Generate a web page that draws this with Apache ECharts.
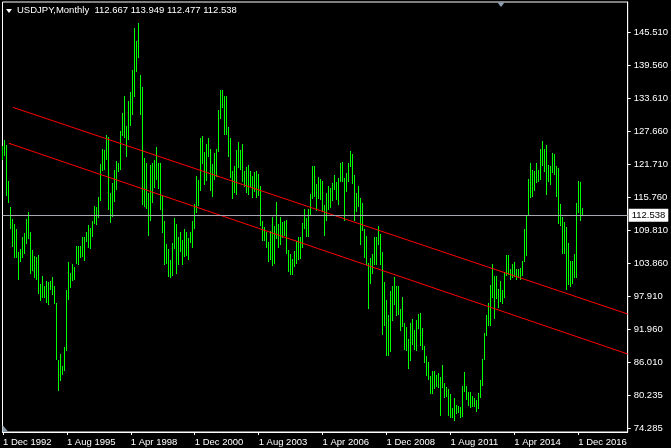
<!DOCTYPE html>
<html>
<head>
<meta charset="utf-8">
<script src="https://cdn.jsdelivr.net/npm/echarts@6/dist/echarts.min.js"></script>
<style>
html,body{margin:0;padding:0;background:#000;}
#chart{width:671px;height:448px;}
</style>
</head>
<body>
<div id="chart"></div>
<script>
// Monthly USDJPY bars, index 0 = Dec 1992 ... 290 = Feb 2017
const highs = [
125.0,126.1,125.2,118.7,114.0,111.8,110.9,110.0,105.9,106.4,108.7,109.3,111.8,
113.1,109.5,106.2,105.2,105.0,105.4,100.1,101.6,99.8,100.7,100.5,100.7,
101.4,99.8,96.7,86.4,87.6,85.3,88.7,99.0,104.1,102.1,103.7,103.2,
107.0,107.0,107.0,108.6,108.6,109.5,110.8,110.2,111.5,114.2,114.0,115.8,
121.8,124.5,124.3,127.0,126.7,116.6,118.4,120.7,122.4,122.0,127.8,131.0,
134.0,128.6,133.2,134.8,138.8,146.3,144.0,147.3,137.9,135.7,122.8,121.9,
116.5,121.6,122.0,122.5,124.8,122.0,122.0,116.0,111.5,107.3,106.5,104.5,
107.5,112.0,111.0,108.6,109.5,108.0,110.0,109.5,108.5,109.5,111.5,114.6,
119.6,119.0,126.5,126.8,124.0,125.5,126.5,124.5,121.8,123.8,124.5,131.6,
135.1,135.2,134.0,134.0,128.5,126.5,120.5,121.5,124.3,125.7,124.3,125.5,
120.6,121.2,121.6,120.6,119.7,120.4,120.6,120.0,117.9,111.6,110.5,109.6,
107.8,109.8,112.2,110.6,114.9,110.9,112.2,111.4,111.5,111.7,106.3,105.5,
104.7,106.1,107.9,108.7,108.7,111.1,113.7,112.1,113.6,116.4,121.4,121.4,
118.2,119.4,119.1,118.7,114.4,116.5,117.8,117.4,118.4,119.8,118.5,119.3,
121.9,122.2,119.2,120.1,122.0,124.1,123.6,119.8,116.6,117.9,115.7,114.7,
110.1,108.8,104.0,104.8,105.5,108.6,108.6,110.7,109.1,106.0,100.5,97.3,
94.6,98.9,99.7,101.4,99.8,99.7,95.6,97.8,93.1,92.3,90.2,93.1,
93.8,91.8,93.6,94.8,94.9,92.2,88.9,87.2,86.0,83.6,84.4,84.5,
83.7,84.0,83.3,85.5,82.2,81.6,81.2,80.3,77.8,79.5,78.3,78.2,
77.9,81.7,84.2,81.8,80.6,80.6,79.9,79.6,79.2,80.4,82.8,86.6,
91.3,94.5,96.7,99.9,103.7,101.5,101.5,99.2,100.6,99.0,102.4,105.4,
105.4,102.8,103.8,104.1,102.8,102.8,103.1,104.3,110.1,112.5,119.1,121.9,
120.8,120.5,122.0,120.8,124.5,125.9,124.6,125.3,121.7,121.5,123.8,123.6,
121.5,121.0,114.6,112.3,111.4,110.4,107.5,104.3,104.3,105.5,114.8,118.7,
118.6,113.949
];
const lows = [
122.5,123.2,116.1,114.8,110.0,106.8,104.8,104.8,100.8,104.1,104.8,105.5,107.4,
108.3,101.9,102.5,101.2,100.8,98.3,97.0,97.6,97.6,96.7,96.3,99.0,
98.2,96.5,86.4,80.8,82.6,83.8,84.4,88.0,97.2,99.4,100.7,100.8,
103.7,103.5,104.8,105.0,104.3,107.7,106.6,106.4,108.6,111.0,110.8,112.0,
115.1,120.5,120.7,122.5,113.5,111.2,112.2,114.9,117.1,120.4,120.7,126.9,
126.5,123.1,126.1,128.6,130.6,133.9,138.5,140.9,130.6,114.4,114.1,113.7,
108.9,111.6,114.8,117.5,119.0,117.3,113.5,109.3,103.6,103.8,101.4,101.3,
101.5,106.4,102.0,103.5,106.0,103.5,105.0,105.2,104.5,107.5,106.7,110.0,
113.0,114.2,117.0,121.8,118.0,118.7,123.0,117.0,115.8,119.0,119.5,124.0,
130.0,132.0,127.0,127.0,123.0,119.3,115.5,116.5,116.2,121.0,120.7,118.5,
117.7,116.5,116.2,117.6,115.7,116.8,115.6,116.0,110.7,107.9,107.9,106.7,
104.2,104.5,103.4,103.8,108.2,106.6,107.2,108.4,108.8,105.6,102.4,101.8,
101.7,103.3,103.7,104.4,104.6,106.6,110.0,108.7,108.7,112.4,115.4,115.8,
113.4,115.5,115.3,113.4,108.9,111.6,113.5,113.8,115.1,117.2,115.3,114.4,
118.5,118.5,111.6,116.8,118.6,121.2,118.2,111.6,113.1,114.1,107.2,109.7,
104.9,103.6,95.7,100.2,102.0,103.5,103.6,107.2,103.5,90.9,92.5,87.1,
87.1,87.9,93.5,96.3,94.4,94.5,91.7,92.4,88.2,88.0,84.8,86.3,
89.2,88.3,88.1,92.1,88.9,88.2,85.9,83.6,82.9,80.2,80.2,81.2,
81.6,81.4,76.3,81.3,79.6,79.7,76.3,75.9,75.9,75.4,76.6,76.9,
76.0,76.1,80.6,79.2,78.2,77.7,77.9,77.9,77.1,77.6,79.6,81.7,
86.5,90.8,92.6,92.6,97.6,93.8,97.5,95.8,96.9,96.6,97.6,101.6,
101.8,100.8,101.2,101.4,100.8,101.2,100.8,101.5,104.2,105.2,112.5,115.6,
115.9,116.9,118.3,118.5,118.9,121.5,120.4,116.2,118.6,118.1,120.2,119.8,
115.9,111.0,110.7,105.6,105.5,99.0,100.0,99.6,100.1,101.2,101.2,112.9,
111.6,112.477
];
// Last bar header: open, high, low, close
const headerOHLC = ['112.667','113.949','112.477','112.538'];
const currentPrice = 112.538;
// Trend lines: [month index, price]
const upperTrend = [[4.9, 132.04], [312.75, 94.73]];
const lowerTrend = [[2.9, 125.55], [312.75, 87.51]];
// Axis ticks
const xTickMonths = [0, 32, 64, 96, 128, 160, 192, 224, 256, 288];
const xTickLabels = ['1 Dec 1992','1 Aug 1995','1 Apr 1998','1 Dec 2000','1 Aug 2003','1 Apr 2006','1 Dec 2008','1 Aug 2011','1 Apr 2014','1 Dec 2016'];
const yTickValues = [74.11, 80.06, 86.01, 91.96, 97.91, 103.86, 109.81, 115.76, 121.71, 127.66, 133.61, 139.56, 145.51];
const yTickLabels = ['74.285','80.235','86.010','91.960','97.910','103.860','109.810','115.760','121.710','127.660','133.610','139.560','145.510'];

const FONT = "'Liberation Sans', Arial, sans-serif";
const barData = highs.map((h, i) => [i, h, lows[i]]);

const chart = echarts.init(document.getElementById('chart'), null, {renderer: 'canvas'});
chart.setOption({
  backgroundColor: '#000',
  animation: false,
  title: {
    text: 'USDJPY,Monthly  ' + headerOHLC.join(' '),
    left: 17, top: 5, padding: 0,
    textStyle: {color: '#fff', fontSize: 9.5, fontWeight: 'normal', fontFamily: FONT}
  },
  grid: {left: 2, right: 43, top: 2, bottom: 16, show: true, borderColor: '#fff', borderWidth: 1, backgroundColor: '#000'},
  xAxis: {
    type: 'value', min: -0.25, max: 312.75,
    splitLine: {show: false},
    axisLine: {show: true, onZero: false, lineStyle: {color: '#fff'}},
    axisTick: {show: true, length: 3, lineStyle: {color: '#fff'}, customValues: xTickMonths},
    axisLabel: {
      color: '#fff', fontSize: 9.5, fontFamily: FONT, align: 'left', margin: 5,
      customValues: xTickMonths,
      formatter: (v) => { const k = xTickMonths.indexOf(Math.round(v)); return k >= 0 ? xTickLabels[k] : ''; }
    }
  },
  yAxis: {
    type: 'value', position: 'right', min: 73.43, max: 151.05,
    splitLine: {show: false},
    axisLine: {show: true, onZero: false, lineStyle: {color: '#fff'}},
    axisTick: {show: true, length: 3, lineStyle: {color: '#fff'}, customValues: yTickValues},
    axisLabel: {
      color: '#fff', fontSize: 9.5, fontFamily: FONT, margin: 6,
      customValues: yTickValues,
      formatter: (v) => { let k = -1; yTickValues.forEach((t, j) => { if (Math.abs(t - v) < 1e-6) k = j; }); return k >= 0 ? yTickLabels[k] : ''; }
    }
  },
  series: [
    {
      type: 'custom',
      data: barData,
      encode: {x: 0, y: [1, 2]},
      renderItem: function (params, api) {
        const p1 = api.coord([api.value(0), api.value(1)]);
        const p2 = api.coord([api.value(0), api.value(2)]);
        const y1 = Math.round(p1[1]);
        const y2 = Math.round(p2[1]);
        return {
          type: 'rect',
          shape: {x: Math.floor(p1[0]), y: y1, width: 1, height: Math.max(1, y2 - y1)},
          style: {fill: '#00ff00'}
        };
      },
      clip: true
    },
    {
      type: 'line', data: upperTrend, symbol: 'none', clip: true,
      lineStyle: {color: '#ff0000', width: 1},
      markLine: {
        silent: true, symbol: 'none',
        lineStyle: {color: '#a8a8b0', width: 1, type: 'solid'},
        label: {
          show: true, position: 'end', distance: 1,
          formatter: () => headerOHLC[3],
          color: '#000', backgroundColor: '#fff', padding: [2, 3, 1, 3],
          fontSize: 9.5, fontFamily: FONT
        },
        data: [{yAxis: currentPrice}]
      }
    },
    {
      type: 'line', data: lowerTrend, symbol: 'none', clip: true,
      lineStyle: {color: '#ff0000', width: 1}
    }
  ],
  graphic: [
    {type: 'polygon', shape: {points: [[6, 9], [12, 9], [9, 13]]}, style: {fill: '#fff'}},
    {type: 'polygon', shape: {points: [[497.5, 2.5], [504.5, 2.5], [501, 7]]}, style: {fill: '#8ca0b4'}},
    {type: 'polygon', shape: {points: [[2.5, 425], [2.5, 431.5], [8, 431.5]]}, style: {fill: '#8a9aaa'}}
  ]
});
</script>
</body>
</html>
